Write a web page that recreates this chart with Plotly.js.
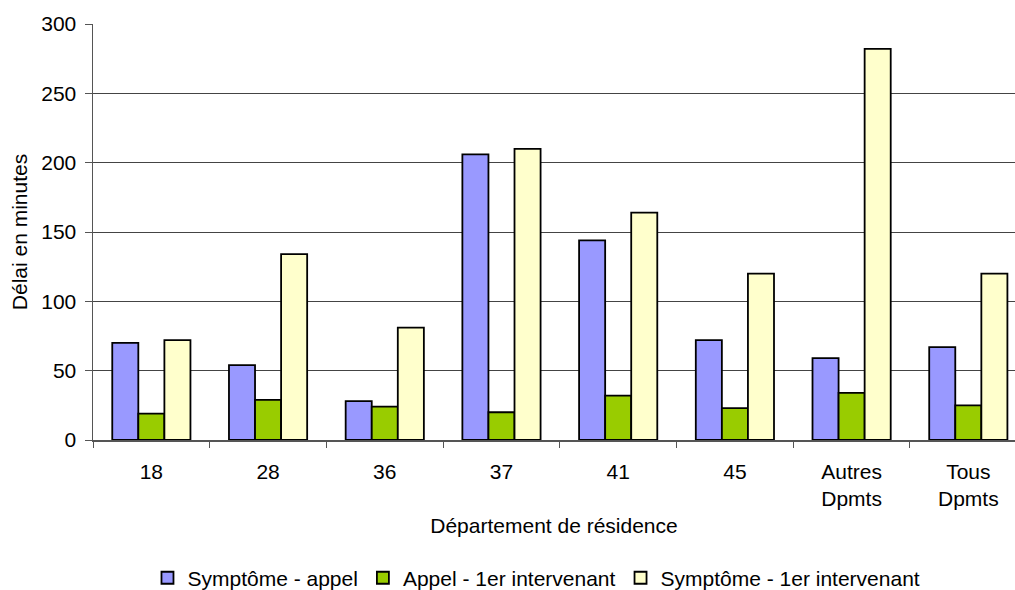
<!DOCTYPE html>
<html>
<head>
<meta charset="utf-8">
<script src="https://cdn.plot.ly/plotly-3.0.1.min.js"></script>
<style>
  html, body { margin: 0; padding: 0; background: #fff; overflow: hidden; }
  #chart { width: 1015px; height: 590px; }
</style>
</head>
<body>
<div id="chart"></div>
<script>
// Délais par département de résidence (minutes)
const departements = ["18", "28", "36", "37", "41", "45", "Autres<br>Dpmts", "Tous<br>Dpmts"];
const symptomeAppel = [70, 54, 28, 206, 144, 72, 59, 67];
const appelIntervenant = [19, 29, 24, 20, 32, 23, 34, 25];
const symptomeIntervenant = [72, 134, 81, 210, 164, 120, 282, 120];

const serieNames = ["Symptôme - appel", "Appel - 1er intervenant", "Symptôme - 1er intervenant"];
const serieColors = ["#9999ff", "#99cc00", "#ffffcc"];
const serieValues = [symptomeAppel, appelIntervenant, symptomeIntervenant];

const FONT = "Liberation Sans, Arial, sans-serif";
const TXT = { family: FONT, size: 21, color: "#000" };

const traces = serieValues.map((vals, i) => ({
  type: "bar",
  name: serieNames[i],
  x: departements,
  y: vals,
  marker: { color: serieColors[i], line: { color: "#000", width: 1.8 } },
  hoverinfo: "x+y+name"
}));

const layout = {
  width: 1015,
  height: 590,
  // fixed plot area: the legend below must not push the margins
  margin: { l: 93, r: 0, t: 24, b: 150, autoexpand: false },
  paper_bgcolor: "#fff",
  plot_bgcolor: "#fff",
  font: TXT,
  barmode: "group",
  bargap: 0.33,
  bargroupgap: 0,
  showlegend: true,
  legend: {
    orientation: "h",
    x: 0.481, xanchor: "center",
    y: -0.332, yanchor: "middle",
    font: TXT,
    itemwidth: 30,
    traceorder: "normal"
  },
  xaxis: {
    type: "category",
    range: [-0.5, 7.4],
    tickson: "boundaries",
    ticks: "outside",
    ticklen: 6,
    tickcolor: "#555",
    ticklabelstandoff: 12,
    showline: true,
    linecolor: "#555",
    linewidth: 1.5,
    showgrid: false,
    zeroline: false,
    tickfont: TXT,
    title: { text: "Département de résidence", font: TXT, standoff: 9 },
    automargin: false,
    fixedrange: true
  },
  yaxis: {
    range: [0, 300],
    tickvals: [0, 50, 100, 150, 200, 250, 300],
    ticks: "outside",
    ticklen: 7,
    tickcolor: "#555",
    ticklabelstandoff: 4,
    showline: true,
    linecolor: "#555",
    linewidth: 1.5,
    showgrid: true,
    gridcolor: "#444",
    gridwidth: 1,
    zeroline: false,
    tickfont: TXT,
    title: { text: "Délai en minutes", font: TXT, standoff: 8 },
    automargin: false,
    fixedrange: true
  }
};

Plotly.newPlot("chart", traces, layout, { displayModeBar: false, staticPlot: true });
</script>
</body>
</html>
